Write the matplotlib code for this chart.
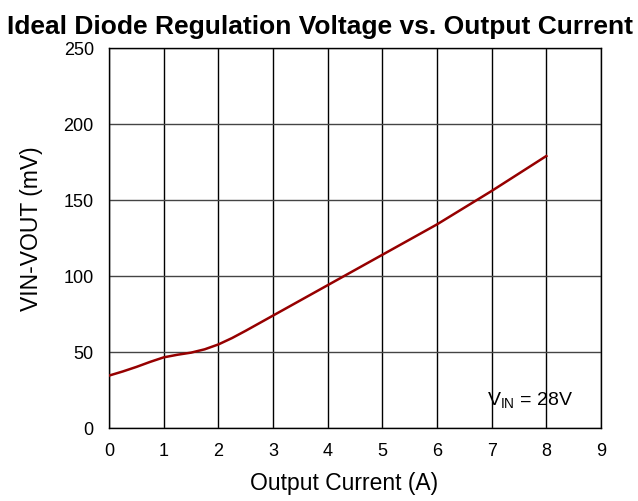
"""Ideal diode regulation voltage vs output current."""

import matplotlib
matplotlib.use('Agg')
import matplotlib.pyplot as plt

plt.rcParams['font.family'] = ['Liberation Sans', 'DejaVu Sans']
plt.rcParams['mathtext.fontset'] = 'custom'
plt.rcParams['mathtext.rm'] = 'Liberation Sans'

# data
current_a = [0, 0.25, 0.5, 0.75, 1, 1.25, 1.5, 1.75, 2, 2.25, 2.5, 2.75, 3, 3.5,
             4, 4.5, 5, 5.5, 6, 6.5, 7, 7.5, 8]
drop_mv = [34.5, 37.2, 40.2, 43.5, 46.5, 48.2, 49.6, 51.8, 55, 59.2, 64, 69, 74, 84,
           94, 104, 114, 124, 134, 145, 156, 167.5, 179]
x_ticks = list(range(0, 10))
y_ticks = [0, 50, 100, 150, 200, 250]

fig = plt.figure(figsize=(6.38, 5.01), dpi=100)
ax = fig.add_axes([0.171, 0.1457, 0.771, 0.7583])

ax.plot(current_a, drop_mv, color='#960000', lw=1.8, zorder=3)

ax.set_xlim(0, 9)
ax.set_ylim(0, 250)
ax.set_xticks(x_ticks)
ax.set_yticks(y_ticks)
ax.tick_params(labelsize=13, length=0, pad=11)

# vertical grid black, horizontal grid a touch lighter
ax.xaxis.grid(True, color='black', lw=1)
ax.yaxis.grid(True, color='#444444', lw=1)
for s in ax.spines.values():
    s.set_color('black')
    s.set_linewidth(1)

# axis labels placed in figure coords to match the reference layout
fig.text(0.540, 0.022, 'Output Current (A)', fontsize=16.5, ha='center', va='baseline')
fig.text(0.0486, 0.543, 'VIN-VOUT (mV)', fontsize=16.5, ha='center', va='center',
         rotation=90)
ax.text(8.49, 14.5, r'V$_{\mathrm{IN}}$ = 28V', fontsize=14, ha='right', va='baseline')

fig.text(0.5016, 0.932, 'Ideal Diode Regulation Voltage vs. Output Current',
         fontsize=19, fontweight='bold', ha='center', va='baseline')

fig.savefig('out.png', dpi=100)
